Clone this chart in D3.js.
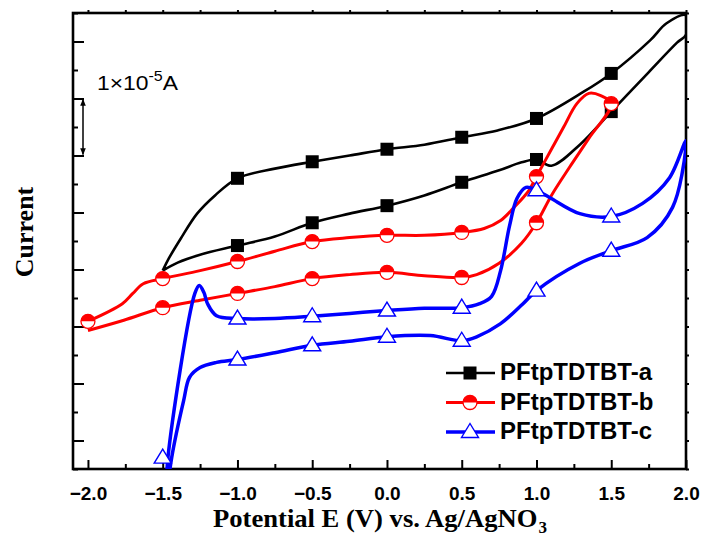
<!DOCTYPE html>
<html>
<head>
<meta charset="utf-8">
<script src="https://cdn.jsdelivr.net/npm/d3@7"></script>
<style>
  body { margin: 0; background: #fff; }
  svg { display: block; }
</style>
</head>
<body>
<div id="chart"></div>
<script>
/* -----------------    DATA     ------------------ */
// potential E (V) and current (units of 1e-5 A, arbitrary zero)

// PFtpTDTBT-a : lower branch out to 2.0 V, upper branch back
const aE = [-1.5, -1.4, -1.25, -1.0, -0.75, -0.5, -0.25, 0, 0.25, 0.5, 0.75, 0.9, 1.0, 1.1, 1.29, 1.5, 1.75, 1.94, 2.0,
            2.0, 1.87, 1.76, 1.5, 1.31, 1.0, 0.74, 0.5, 0.25, 0, -0.25, -0.5, -0.75, -1.0, -1.15, -1.27, -1.38, -1.46, -1.5];
const aI = [2.98, 3.12, 3.26, 3.42, 3.58, 3.82, 3.98, 4.12, 4.30, 4.53, 4.74, 4.88, 4.93, 4.82, 5.19, 5.77, 6.46, 6.98, 7.12,
            7.46, 7.32, 7.02, 6.44, 6.11, 5.65, 5.44, 5.32, 5.19, 5.11, 5.00, 4.89, 4.77, 4.60, 4.30, 3.98, 3.54, 3.19, 2.98];
const aMarkE = [-1, -0.5, 0, 0.5, 1, 1.5, -1, -0.5, 0, 0.5, 1, 1.5];
const aMarkI = [4.60, 4.89, 5.11, 5.32, 5.65, 6.44, 3.42, 3.82, 4.12, 4.53, 4.93, 5.77];

// PFtpTDTBT-b
const bE = [-2.0, -1.77, -1.7, -1.63, -1.5, -1.25, -1.0, -0.75, -0.5, -0.25, 0, 0.25, 0.5, 0.65, 0.76, 0.85, 0.95, 1.0, 1.1, 1.18, 1.27, 1.35, 1.43, 1.5,
            1.35, 1.22, 1.1, 1.0, 0.9, 0.75, 0.6, 0.5, 0.25, 0, -0.25, -0.5, -0.75, -1.0, -1.25, -1.5, -1.76, -2.0];
const bI = [2.09, 2.40, 2.58, 2.75, 2.84, 2.98, 3.14, 3.32, 3.49, 3.56, 3.60, 3.60, 3.65, 3.72, 3.86, 4.09, 4.39, 4.63, 5.11, 5.49, 5.91, 6.09, 6.05, 5.91,
            5.30, 4.79, 4.30, 3.82, 3.46, 3.11, 2.91, 2.86, 2.89, 2.95, 2.91, 2.84, 2.70, 2.58, 2.46, 2.33, 2.11, 1.93];
const bMarkE = [-2, -1.5, -1, -0.5, 0, 0.5, 1, 1.5, -1.5, -1, -0.5, 0, 0.5, 1];
const bMarkI = [2.09, 2.84, 3.14, 3.49, 3.60, 3.65, 4.63, 5.91, 2.33, 2.58, 2.84, 2.95, 2.86, 3.82];

// PFtpTDTBT-c
const cE = [-1.475, -1.465, -1.285, -1.255, -1.225, -1.2, -1.14, -1.0, -0.75, -0.5, -0.25, 0, 0.25, 0.5, 0.62, 0.7, 0.76, 0.82, 0.87, 0.93, 1.0, 1.09, 1.29, 1.5, 1.71, 1.89, 2.0,
            2.0, 1.91, 1.74, 1.5, 1.29, 1.0, 0.91, 0.76, 0.6, 0.5, 0.29, 0, -0.25, -0.5, -0.75, -1.0, -1.14, -1.25, -1.32, -1.36, -1.44, -1.47];
const cI = [-0.88, -0.30, 2.58, 2.72, 2.60, 2.40, 2.19, 2.14, 2.14, 2.18, 2.23, 2.28, 2.32, 2.33, 2.40, 2.53, 2.98, 3.77, 4.25, 4.44, 4.39, 4.26, 3.98, 3.93, 4.16, 4.61, 5.26,
            5.14, 4.09, 3.56, 3.33, 3.11, 2.63, 2.40, 2.05, 1.82, 1.75, 1.84, 1.82, 1.74, 1.67, 1.54, 1.42, 1.37, 1.28, 1.11, 0.70, -0.30, -0.90];
const cMarkE = [-1.5, -1, -0.5, 0, 0.5, 1, 1.5, -1, -0.5, 0, 0.5, 1, 1.5];
const cMarkI = [-0.30, 2.14, 2.18, 2.28, 2.33, 4.39, 3.93, 1.42, 1.67, 1.82, 1.75, 2.63, 3.33];

const seriesNames = ['PFtpTDTBT-a', 'PFtpTDTBT-b', 'PFtpTDTBT-c'];
const xTicks = [-2.0, -1.5, -1.0, -0.5, 0.0, 0.5, 1.0, 1.5, 2.0];
const yTicks = [0, 1, 2, 3, 4, 5, 6, 7];

/* -----------------    SETUP     ------------------ */

const W = 704, H = 545;
const plot = {left: 73, right: 686, top: 13, bottom: 469};

const svg = d3.select('#chart').append('svg')
    .attr('width', W)
    .attr('height', H);

const x = d3.scaleLinear().domain([-2.1, 2.0]).range([plot.left, plot.right]);
const y = d3.scaleLinear().domain([-0.5, 7.5]).range([plot.bottom, plot.top]);

const series = [
    {name: seriesNames[0], color: '#000000', lw: 2.6, sym: 'square',   E: aE, I: aI, mE: aMarkE, mI: aMarkI},
    {name: seriesNames[1], color: '#ff0000', lw: 3,   sym: 'halfcirc', E: bE, I: bI, mE: bMarkE, mI: bMarkI},
    {name: seriesNames[2], color: '#0000ff', lw: 3.5, sym: 'triangle', E: cE, I: cI, mE: cMarkE, mI: cMarkI}
];

svg.append('defs').append('clipPath').attr('id', 'clip')
  .append('rect')
    .attr('x', plot.left).attr('y', plot.top)
    .attr('width', plot.right - plot.left).attr('height', plot.bottom - plot.top);

svg.select('defs').append('marker')
    .attr('id', 'arrow')
    .attr('viewBox', '0 0 10 10')
    .attr('refX', 9).attr('refY', 5)
    .attr('markerWidth', 7).attr('markerHeight', 7)
    .attr('markerUnits', 'userSpaceOnUse')
    .attr('orient', 'auto-start-reverse')
  .append('path')
    .attr('d', 'M0,1 L10,5 L0,9 Z')
    .attr('fill', '#000');

/* -----------------    AXES     ------------------ */

const minorX = d3.range(-2.0, 2.01, 0.25).filter(v => Math.abs(v * 2 - Math.round(v * 2)) > 0.01);
const minorY = d3.range(-0.5, 7.51, 0.5).filter(v => Math.abs(v - Math.round(v)) > 0.01);

function styleAxis(g) {
    g.select('.domain').remove();
    g.selectAll('.tick line').attr('stroke', '#000').attr('stroke-width', 2);
}

// bottom
svg.append('g')
    .attr('transform', `translate(0,${plot.bottom})`)
    .call(d3.axisBottom(x).tickValues(xTicks).tickSize(-9).tickPadding(17.5).tickFormat(d3.format('.1f')))
    .call(styleAxis)
    .call(g => g.selectAll('text')
        .attr('fill', '#000')
        .style('font-family', '"Liberation Sans", Arial, sans-serif')
        .style('font-weight', 'bold')
        .style('font-size', '19px'));
svg.append('g')
    .attr('transform', `translate(0,${plot.bottom})`)
    .call(d3.axisBottom(x).tickValues(minorX).tickSize(-5).tickFormat(''))
    .call(styleAxis);

// top (short outer ticks)
svg.append('g')
    .attr('transform', `translate(0,${plot.top})`)
    .call(d3.axisTop(x).tickValues(xTicks.concat(minorX)).tickSize(3).tickFormat(''))
    .call(styleAxis);

// left
svg.append('g')
    .attr('transform', `translate(${plot.left},0)`)
    .call(d3.axisLeft(y).tickValues(yTicks).tickSize(-11).tickFormat(''))
    .call(styleAxis);
svg.append('g')
    .attr('transform', `translate(${plot.left},0)`)
    .call(d3.axisLeft(y).tickValues(minorY).tickSize(-5).tickFormat(''))
    .call(styleAxis);

// right (short outer ticks)
svg.append('g')
    .attr('transform', `translate(${plot.right},0)`)
    .call(d3.axisRight(y).tickValues(yTicks.concat(minorY)).tickSize(3).tickFormat(''))
    .call(styleAxis);

// frame
svg.append('rect')
    .attr('x', plot.left).attr('y', plot.top)
    .attr('width', plot.right - plot.left).attr('height', plot.bottom - plot.top)
    .attr('fill', 'none')
    .attr('stroke', '#000')
    .attr('stroke-width', 2.6);

/* -----------------    CURVES     ------------------ */

const line = d3.line()
    .x(d => x(d[0]))
    .y(d => y(d[1]))
    .curve(d3.curveCatmullRom.alpha(0.5));

const curves = svg.append('g').attr('clip-path', 'url(#clip)');

function drawSymbol(g, sym, color) {
    if (sym === 'square') {
        g.append('rect')
            .attr('x', -6.5).attr('y', -6.5).attr('width', 13).attr('height', 13)
            .attr('fill', color);
    } else if (sym === 'halfcirc') {
        g.append('circle').attr('r', 7).attr('fill', '#fff').attr('stroke', color).attr('stroke-width', 1.3);
        g.append('path').attr('d', 'M-7,0 A7,7 0 0 1 7,0 Z').attr('fill', color);
    } else {
        g.append('path')
            .attr('d', 'M0,-8.5 L8.5,5.5 L-8.5,5.5 Z')
            .attr('fill', '#fff')
            .attr('stroke', color)
            .attr('stroke-width', 1.4);
    }
}

series.forEach(s => {
    const pts = s.E.map((e, i) => [e, s.I[i]]);
    curves.append('path')
        .datum(pts)
        .attr('d', line)
        .attr('fill', 'none')
        .attr('stroke', s.color)
        .attr('stroke-width', s.lw)
        .attr('stroke-linejoin', 'round');

    const marks = s.mE.map((e, i) => [e, s.mI[i]]);
    curves.selectAll(null)
        .data(marks)
        .enter()
        .append('g')
        .attr('transform', d => `translate(${x(d[0])},${y(d[1])})`)
        .each(function() { drawSymbol(d3.select(this), s.sym, s.color); });
});

/* -----------------    LEGEND     ------------------ */

const legend = svg.append('g');
series.forEach((s, i) => {
    const ly = 373 + i * 29.5;
    legend.append('line')
        .attr('x1', 446).attr('x2', 495).attr('y1', ly).attr('y2', ly)
        .attr('stroke', s.color).attr('stroke-width', s.lw);
    drawSymbol(legend.append('g').attr('transform', `translate(470,${ly})`), s.sym, s.color);
    legend.append('text')
        .attr('x', 500).attr('y', ly + 7)
        .style('font-family', '"Liberation Sans", Arial, sans-serif')
        .style('font-weight', 'bold')
        .style('font-size', '24px')
        .text(s.name);
});

/* -----------------    SCALE BAR & TITLES     ------------------ */

svg.append('line')
    .attr('x1', 83).attr('x2', 83)
    .attr('y1', y(6) + 1).attr('y2', y(5) - 1)
    .attr('stroke', '#000').attr('stroke-width', 1.5)
    .attr('marker-start', 'url(#arrow)')
    .attr('marker-end', 'url(#arrow)');

const scaleText = svg.append('text')
    .attr('x', 97).attr('y', 90)
    .attr('textLength', 81)
    .attr('lengthAdjust', 'spacingAndGlyphs')
    .style('font-family', '"Liberation Sans", Arial, sans-serif')
    .style('font-size', '20px');
scaleText.append('tspan').text('1\u00d710');
scaleText.append('tspan').attr('dy', -9).style('font-size', '14px').text('-5');
scaleText.append('tspan').attr('dy', 9).text('A');

const xTitle = svg.append('text')
    .attr('x', 380).attr('y', 527)
    .attr('text-anchor', 'middle')
    .attr('textLength', 334)
    .attr('lengthAdjust', 'spacingAndGlyphs')
    .style('font-family', '"Liberation Serif", "Times New Roman", serif')
    .style('font-weight', 'bold')
    .style('font-size', '25px');
xTitle.append('tspan').text('Potential E (V) vs. Ag/AgNO');
xTitle.append('tspan').attr('dx', 1).attr('dy', 6).style('font-size', '16px').text('3');

svg.append('text')
    .attr('transform', 'translate(33,232) rotate(-90)')
    .attr('text-anchor', 'middle')
    .style('font-family', '"Liberation Serif", "Times New Roman", serif')
    .style('font-weight', 'bold')
    .style('font-size', '26px')
    .text('Current');
</script>
</body>
</html>
